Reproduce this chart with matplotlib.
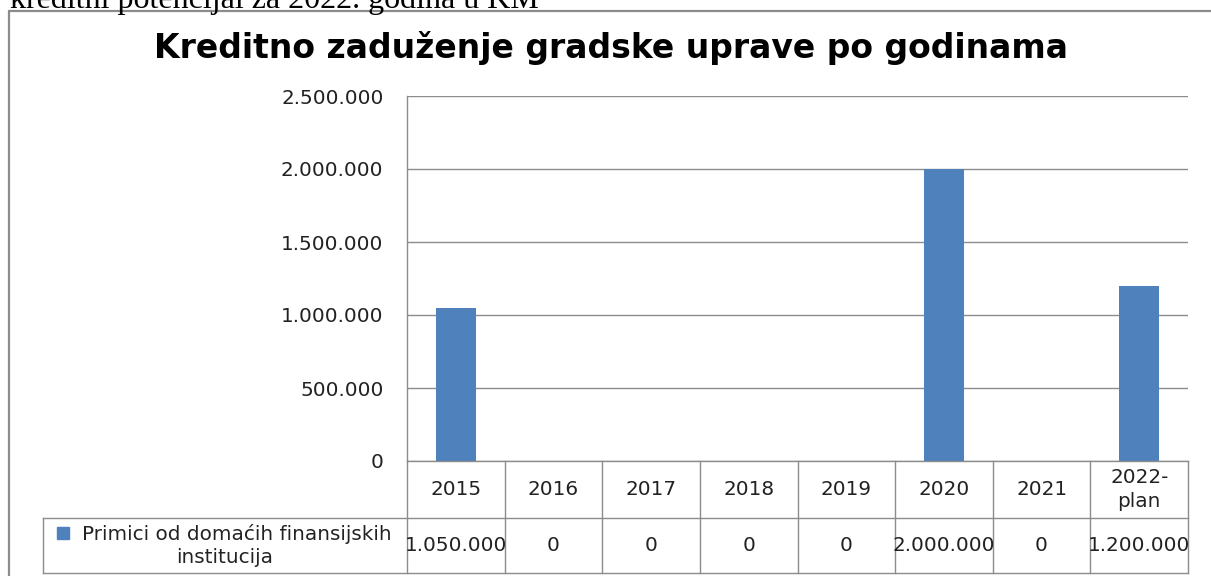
import matplotlib.pyplot as plt
from matplotlib.patches import Rectangle
from matplotlib.lines import Line2D

years = ['2015', '2016', '2017', '2018', '2019', '2020', '2021', '2022-\nplan']
values = [1050000, 0, 0, 0, 0, 2000000, 0, 1200000]
series_name = ['Primici od domaćih finansijskih', 'institucija']
title = 'Kreditno zaduženje gradske uprave po godinama'
page_text = 'kreditni potencijal za 2022. godina u KM'


def fmt(v):
    # tacka kao separator hiljada
    return '{:,}'.format(int(v)).replace(',', '.')


W, H = 1211, 576
fig = plt.figure(figsize=(W / 100, H / 100), dpi=100)
plt.rcParams['font.family'] = ['DejaVu Sans']

blue = '#4F81BD'
grey = '#8C8C8C'
txt = '#222222'
fs = 14.4

# tekst dokumenta iznad grafikona (odsjecen)
fig.text(10 / W, 1 - 8 / H, page_text, family='Liberation Serif', fontsize=23,
         va='baseline', ha='left', color='black')

# okvir grafikona
fig.patches.append(Rectangle((9 / W, -0.05), 1.2, 1 - 11 / H + 0.05, transform=fig.transFigure,
                             fill=False, edgecolor=grey, linewidth=1.6))

fig.text(611 / W, 1 - 58 / H, title, fontsize=23.8, fontweight='bold',
         ha='center', va='baseline')

# podrucje crtanja
x0, x1 = 407, 1188
y_top, y_zero = 96, 461
ax = fig.add_axes([x0 / W, 1 - y_zero / H, (x1 - x0) / W, (y_zero - y_top) / H])
xs = list(range(len(years)))
ax.bar(xs, values, width=0.41, color=blue, zorder=3)
ax.set_xlim(-0.5, len(years) - 0.5)
ax.set_ylim(0, 2500000)
ax.set_yticks(range(0, 2500001, 500000))
ax.set_yticklabels([fmt(v) for v in range(0, 2500001, 500000)], fontsize=fs, color=txt)
ax.tick_params(axis='y', length=0, pad=17)
ax.tick_params(axis='x', length=0, labelbottom=False)
ax.grid(axis='y', color=grey, linewidth=1.0, zorder=0)
for s in ['top', 'right', 'bottom']:
    ax.spines[s].set_visible(False)
ax.spines['left'].set_color(grey)
ax.spines['left'].set_linewidth(1.0)

# tabela podataka ispod
t_left, t_bottom = 43, 573
unit = (x1 - x0) / len(years)
tax = fig.add_axes([t_left / W, 1 - t_bottom / H, (x1 - t_left) / W, (t_bottom - y_zero) / H])
left_x = -0.5 - (x0 - t_left) / unit
tax.set_xlim(left_x, len(years) - 0.5)
tax.set_ylim(2, 0)
tax.axis('off')
row_split = (518 - y_zero) / (t_bottom - y_zero) * 2

lk = dict(color=grey, linewidth=1.0, clip_on=False)
tax.add_line(Line2D([-0.5, len(years) - 0.5], [0, 0], **lk))
tax.add_line(Line2D([left_x, len(years) - 0.5], [row_split, row_split], **lk))
tax.add_line(Line2D([left_x, len(years) - 0.5], [2, 2], **lk))
tax.add_line(Line2D([left_x, left_x], [row_split, 2], **lk))
for i in range(len(years) + 1):
    tax.add_line(Line2D([i - 0.5, i - 0.5], [0, 2], **lk))

for i, (yr, v) in enumerate(zip(years, values)):
    tax.text(i, row_split / 2, yr, ha='center', va='center', fontsize=fs,
             color=txt, linespacing=1.3)
    tax.text(i, (row_split + 2) / 2, fmt(v), ha='center', va='center', fontsize=fs,
             color=txt)

# legenda u tabeli: kvadrat + naziv serije
mid_leg = (left_x - 0.5) / 2
r1 = row_split + (2 - row_split) * 0.3
r2 = row_split + (2 - row_split) * 0.72
tax.text(mid_leg + 0.12, r1, series_name[0], ha='center', va='center', fontsize=fs, color=txt)
tax.text(mid_leg, r2, series_name[1], ha='center', va='center', fontsize=fs, color=txt)
tax.plot([left_x + 0.2], [r1 - 0.03], marker='s', markersize=9, color=blue, clip_on=False)

plt.savefig('out.png', dpi=100)
